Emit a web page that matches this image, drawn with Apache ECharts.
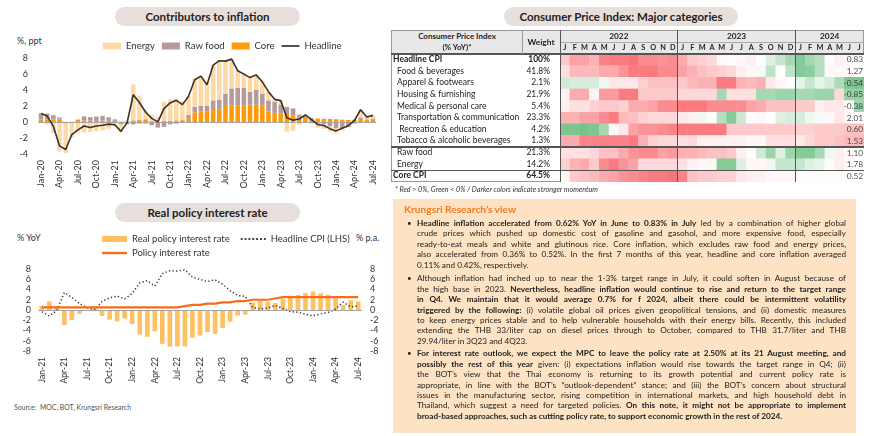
<!DOCTYPE html>
<html><head><meta charset="utf-8">
<script src="https://cdn.jsdelivr.net/npm/echarts@6/dist/echarts.min.js"></script>
<style>
body{margin:0;width:870px;height:436px;background:#fff;position:relative;overflow:hidden;font-family:Lato,"Noto Sans",sans-serif;color:#222;}
.abs{position:absolute;}
.pill{position:absolute;height:19px;line-height:19px;border-radius:10px;background:#e7dfdb;text-align:center;font-weight:bold;font-size:11.5px;color:#222;}
.small{font-size:9px;color:#333;}
#box{position:absolute;left:393px;top:199px;width:463px;height:234px;background:#fde3c3;}
.ln{position:absolute;left:24px;width:429px;font-size:8.2px;line-height:10.4px;height:10.4px;text-align:justify;text-align-last:justify;white-space:normal;color:#222;}
.ln.last{text-align-last:left;}
.bul{position:absolute;left:14px;font-size:8px;line-height:10.4px;}
.tt{position:absolute;font-size:8.5px;line-height:11.7px;height:11.7px;white-space:nowrap;color:#222;}
.hl{position:absolute;background:#555;}
</style></head><body>

<div class="pill" style="left:115px;top:7px;width:185px;">Contributors to inflation</div>
<div class="pill" style="left:115px;top:203px;width:185px;">Real policy interest rate</div>
<div class="pill" style="left:504px;top:7px;width:234px;">Consumer Price Index: Major categories</div>

<div class="abs small" style="left:17px;top:35px;">%, ppt</div>
<div class="abs small" style="left:17px;top:232px;">% YoY</div>
<div class="abs small" style="left:356px;top:232px;">% p.a.</div>
<div class="abs" style="left:14px;top:403px;font-size:6.9px;color:#555;">Source:&nbsp; MOC, BOT, Krungsri Research</div>

<div id="c1" class="abs" style="left:0;top:30px;width:380px;height:165px;"></div>
<div id="c2" class="abs" style="left:0;top:228px;width:382px;height:160px;"></div>

<!-- table -->
<div id="tbl" class="abs" style="left:391px;top:30px;width:473px;height:152px;border:1px solid #999;box-sizing:border-box;"></div>
<div class="abs" style="left:392px;top:31px;width:471px;height:23px;background:#e8e8e8;"></div>
<div id="heat" class="abs" style="left:560px;top:54px;width:304px;height:128px;"></div>
<div id="tlayer"></div>

<div class="abs" style="left:395px;top:185px;font-size:7.15px;font-style:italic;color:#333;">* Red &gt; 0%, Green &lt; 0% / Darker colors indicate stronger momentum</div>

<div id="box">
<div class="abs" style="left:11px;top:4px;font-size:10.2px;font-weight:bold;color:#f47a20;">Krungsri Research’s view</div>
<div id="paras"></div>
</div>

<script>
// ---------- Chart 1 data ----------
const cats1 = ['Jan-20','Feb-20','Mar-20','Apr-20','May-20','Jun-20','Jul-20','Aug-20','Sep-20','Oct-20','Nov-20','Dec-20',
'Jan-21','Feb-21','Mar-21','Apr-21','May-21','Jun-21','Jul-21','Aug-21','Sep-21','Oct-21','Nov-21','Dec-21',
'Jan-22','Feb-22','Mar-22','Apr-22','May-22','Jun-22','Jul-22','Aug-22','Sep-22','Oct-22','Nov-22','Dec-22',
'Jan-23','Feb-23','Mar-23','Apr-23','May-23','Jun-23','Jul-23','Aug-23','Sep-23','Oct-23','Nov-23','Dec-23',
'Jan-24','Feb-24','Mar-24','Apr-24','May-24','Jun-24','Jul-24'];
const coreContrib = [0.30,0.35,0.30,0.30,0.02,0.03,0.25,0.20,0.16,0.13,0.17,0.14,
0.14,0.05,0.06,0.20,0.30,0.35,0.10,0.05,0.13,0.14,0.20,0.20,
0.40,1.20,1.30,1.35,1.50,1.65,2.00,2.10,2.10,2.10,2.15,2.15,
2.05,1.30,1.15,1.10,1.00,0.87,0.57,0.52,0.42,0.44,0.39,0.39,
0.35,0.29,0.25,0.25,0.26,0.24,0.35];
const rawFoodContrib = [0.80,0.70,0.55,0.25,-0.20,-0.15,0.05,0.50,0.45,0.55,0.60,0.45,
0.20,-0.30,-0.30,-0.30,-0.20,-0.20,-0.40,-0.70,-0.60,-0.30,-0.20,0.10,
0.50,0.70,0.70,0.70,1.20,1.15,1.50,2.10,2.20,2.20,1.65,1.85,
1.50,1.40,1.35,1.10,0.90,0.83,0.35,0.20,0.10,-0.20,-0.30,-0.55,
-0.75,-0.75,-0.60,-0.20,0.30,0.10,0.10];
const energyContrib = [0.05,-0.30,-1.40,-3.70,-3.70,-1.80,-1.30,-1.30,-1.25,-1.15,-1.05,-0.85,
-0.55,-1.00,0.10,4.50,3.00,1.15,0.80,0.60,2.40,2.70,2.70,2.30,
2.30,3.50,3.80,2.90,4.40,4.90,4.20,3.70,2.10,1.80,1.70,1.80,
1.60,1.10,0.30,0.50,-1.20,-1.10,-0.40,0.20,-0.20,-0.50,-0.55,-0.65,
-0.65,-0.30,-0.10,0.10,1.00,0.30,0.40];
const headline1 = [1.05,0.74,-0.54,-2.99,-3.44,-1.57,-0.98,-0.50,-0.70,-0.50,-0.41,-0.27,
-0.34,-1.17,-0.08,3.41,2.44,1.25,0.45,0.02,1.68,2.38,2.71,2.17,
3.23,5.28,5.73,4.65,7.10,7.66,7.61,7.86,6.41,5.98,5.55,5.89,
5.02,3.79,2.83,2.67,0.53,0.23,0.38,0.88,0.30,-0.31,-0.44,-0.83,
-1.11,-0.77,-0.47,0.19,1.54,0.62,0.83];
const yTicks1 = {min:-4,max:8,interval:2};

// ---------- Chart 2 data ----------
const cats2 = cats1.slice(12);
const realRate = [0.84,1.67,0.58,-2.91,-1.94,-0.75,0.05,0.48,-1.18,-1.88,-2.21,-1.67,
-2.73,-4.78,-5.23,-4.15,-6.60,-7.16,-7.11,-7.11,-5.41,-4.98,-4.30,-4.64,
-3.52,-2.29,-1.08,-0.92,1.47,1.77,1.62,1.37,2.20,2.81,2.94,3.33,
3.61,3.27,2.97,2.31,0.96,1.88,1.67];
const headline2 = [-0.34,-1.17,-0.08,3.41,2.44,1.25,0.45,0.02,1.68,2.38,2.71,2.17,
3.23,5.28,5.73,4.65,7.10,7.66,7.61,7.86,6.41,5.98,5.55,5.89,
5.02,3.79,2.83,2.67,0.53,0.23,0.38,0.88,0.30,-0.31,-0.44,-0.83,
-1.11,-0.77,-0.47,0.19,1.54,0.62,0.83];
const policyRate = [0.5,0.5,0.5,0.5,0.5,0.5,0.5,0.5,0.5,0.5,0.5,0.5,
0.5,0.5,0.5,0.5,0.5,0.5,0.5,0.75,1.0,1.0,1.25,1.25,
1.5,1.5,1.75,1.75,2.0,2.0,2.0,2.25,2.5,2.5,2.5,2.5,
2.5,2.5,2.5,2.5,2.5,2.5,2.5];

// ---------- Heatmap data ----------
const rowNames = ['Headline CPI','Food & beverages','Apparel & footwears','Housing & furnishing','Medical & personal care','Transportation & communication',' Recreation & education','Tobacco & alcoholic beverages','Raw food','Energy','Core CPI'];
const weights = ['100%','41.8%','2.1%','21.9%','5.4%','23.3%','4.2%','1.3%','21.3%','14.2%','64.5%'];
const latestYoY = ['0.83','1.27','-0.54','-0.85','-0.38','2.01','0.60','1.53','1.10','1.78','0.52'];
const heatYears = ['2022','2023','2024'];
const heatMonths = ['J','F','M','A','M','J','J','A','S','O','N','D','J','F','M','A','M','J','J','A','S','O','N','D','J','F','M','A','M','J','J'];
const heatLevels = [
[0.35,0.6,0.6,0.5,0.8,0.85,0.85,0.9,0.75,0.75,0.7,0.75, 0.55,0.35,0.3,0.25,0.05,0.02,0.05,0.1,0.02,-0.2,-0.35,-0.55, -0.75,-0.55,-0.45,0.02,0.1,0.05,0],
[0.2,0.45,0.45,0.45,0.55,0.55,0.7,0.85,0.85,0.85,0.75,0.75, 0.6,0.5,0.4,0.35,0.3,0.25,0.1,0.05,-0.05,-0.4,0.0,-0.4, -0.75,-0.7,-0.45,0.05,0.05,0.05,0],
[-0.3,-0.25,-0.25,-0.25,-0.1,0.15,0.15,0.15,0.3,0.4,0.4,0.4, 0.35,0.45,0.5,0.5,0.85,0.85,0.5,0.45,0.5,0.15,0.05,0.0, -0.15,-0.35,-0.15,-0.25,-0.5,-0.8,-0.8],
[0.08,0.55,0.55,0.08,0.65,0.65,0.85,0.85,0.35,0.35,0.35,0.35, 0.25,0.25,0.25,0.25,-0.55,0.2,0.2,0.2,-0.55,-0.55,-0.6,-0.6, -0.55,-0.55,-0.6,-0.6,0.25,-0.65,-0.65],
[0.1,0.2,0.2,0.3,0.35,0.35,0.3,0.55,0.55,0.6,0.75,0.75, 0.85,0.85,0.85,0.75,0.75,0.75,0.75,0.6,0.55,0.4,0.4,0.4, 0.35,0.35,0.1,0.15,0.15,0.03,-0.6],
[0.5,0.5,0.6,0.6,0.75,0.85,0.45,0.4,0.3,0.25,0.25,0.25, 0.15,0.1,-0.1,0.02,-0.45,-0.75,-0.3,0.02,0.05,0.0,-0.2,-0.25, -0.25,-0.1,-0.05,0.05,0.15,0.05,0],
[-0.8,-0.8,-0.85,-0.8,-0.55,0.05,0.15,0.6,0.7,0.7,0.75,0.8, 0.85,0.85,0.85,0.85,0.85,0.35,0.35,0.35,0.35,0.35,0.35,0.35, 0.3,0.3,0.35,0.35,0.35,0.4,0.4],
[0.55,0.55,0.8,0.8,0.8,0.8,0.8,0.85,0.5,0.3,0.25,0.25, 0.2,0.25,0.1,0.1,0.1,0.1,0.1,0.05,0.05,0.2,0.2,0.2, 0.15,0.25,0.35,0.35,0.4,0.45,0.45],
[0.2,0.2,0.2,0.25,0.4,0.4,0.55,0.7,0.75,0.75,0.6,0.65, 0.5,0.5,0.45,0.4,0.4,0.35,0.1,-0.02,-0.3,-0.6,-0.2,-0.6, -0.75,-0.75,-0.55,-0.1,0.1,0.05,0],
[0.3,0.5,0.55,0.35,0.75,0.85,0.7,0.6,0.25,0.25,0.25,0.25, 0.2,0.1,0.05,0.05,-0.75,-0.75,-0.2,0.05,0.05,-0.1,-0.35,-0.35, -0.35,-0.2,-0.15,0.02,0.1,0.05,0],
[0.05,0.35,0.4,0.45,0.55,0.6,0.7,0.75,0.8,0.85,0.85,0.9, 0.8,0.4,0.35,0.35,0.3,0.3,0.15,0.1,0.1,0.05,0.05,0.05, 0.02,0.02,0.02,0.02,0.02,0.02,0]
];

// legend icons (pure shapes)
function lineIcon(w,h){return 'path://M0,0H'+w+'V'+h+'H0Z';}
function dotIcon(w,h,dot,gap){let s='path://';for(let x=0;x+dot<=w;x+=dot+gap){s+='M'+x+',0h'+dot+'v'+h+'h-'+dot+'z';}return s;}

// ---------- Chart 1 ----------
const axisText = {color:'#333',fontSize:9,fontFamily:'Lato'};
const c1 = echarts.init(document.getElementById('c1'),null,{renderer:'canvas'});
c1.setOption({
  animation:false,
  textStyle:{fontFamily:'Lato'},
  legend:{left:98,top:6,itemWidth:18,itemHeight:7,itemGap:7,textStyle:{color:'#333',fontSize:9.5},
    data:[{name:'Energy',icon:'rect'},{name:'Raw food',icon:'rect'},{name:'Core',icon:'rect'},{name:'Headline',icon:lineIcon(18,1.7)}]},
  grid:{left:38,right:4,top:28,height:96},
  xAxis:{type:'category',data:cats1,axisLine:{show:false},axisTick:{show:false},
    axisLabel:Object.assign({rotate:90,interval:2,margin:6},axisText)},
  yAxis:{type:'value',min:yTicks1.min,max:yTicks1.max,interval:yTicks1.interval,splitLine:{show:false},
    axisLine:{show:false},axisTick:{show:false},axisLabel:Object.assign({margin:10},axisText)},
  series:[
    {name:'Core',type:'bar',stack:'s',data:coreContrib,itemStyle:{color:'#ff9a0a'},barCategoryGap:'26%',
      markLine:{silent:true,symbol:'none',label:{show:false},lineStyle:{color:'#a6a6a6',type:'solid',width:1.2},data:[{yAxis:0}]}},
    {name:'Raw food',type:'bar',stack:'s',data:rawFoodContrib,itemStyle:{color:'#b49a9b'}},
    {name:'Energy',type:'bar',stack:'s',data:energyContrib,itemStyle:{color:'#fdd9a6'}},
    {name:'Headline',type:'line',data:headline1,symbol:'none',lineStyle:{color:'#3b302c',width:1.6},itemStyle:{color:'#3b302c'},z:5}
  ]
});

// ---------- Chart 2 ----------
const c2 = echarts.init(document.getElementById('c2'));
c2.setOption({
  animation:false,
  textStyle:{fontFamily:'Lato'},
  legend:[
    {left:97,top:1,itemWidth:25,itemHeight:6,itemGap:11,textStyle:{color:'#333',fontSize:9.5},
      data:[{name:'Real policy interest rate',icon:'rect'},{name:'Headline CPI (LHS)',icon:dotIcon(25,1.6,1.6,1.8)}]},
    {left:97,top:15,itemWidth:25,itemHeight:6,textStyle:{color:'#333',fontSize:9.5},data:[{name:'Policy interest rate',icon:lineIcon(25,2.4)}]}
  ],
  grid:{left:38,right:20,top:41,height:82},
  xAxis:{type:'category',data:cats2,axisLine:{show:false},axisTick:{show:false},
    axisLabel:Object.assign({rotate:90,interval:2,margin:6},axisText,{fontSize:8.5})},
  yAxis:[
    {type:'value',min:-8,max:8,interval:2,splitLine:{show:false},axisLine:{show:false},axisTick:{show:false},axisLabel:Object.assign({margin:7},axisText)},
    {type:'value',min:-8,max:8,interval:2,position:'right',splitLine:{show:false},axisLine:{show:false},axisTick:{show:false},axisLabel:Object.assign({margin:8},axisText)}
  ],
  series:[
    {name:'Real policy interest rate',type:'bar',yAxisIndex:1,data:realRate,itemStyle:{color:'#ffc061'},barCategoryGap:'38%',
      markLine:{silent:true,symbol:'none',label:{show:false},lineStyle:{color:'#a6a6a6',type:'solid',width:1.2},data:[{yAxis:0}]}},
    {name:'Headline CPI (LHS)',type:'line',yAxisIndex:0,data:headline2,symbol:'none',lineStyle:{color:'#3a3a3a',width:1.5,type:[1.3,2.3]},itemStyle:{color:'#3a3a3a'},z:4},
    {name:'Policy interest rate',type:'line',yAxisIndex:1,data:policyRate,symbol:'none',lineStyle:{color:'#f86b19',width:2.2},itemStyle:{color:'#f86b19'},z:5}
  ]
});

// ---------- Heatmap ----------
const heatData = [], labelData = [];
heatLevels.forEach((row,r)=>row.forEach((v,c)=>heatData.push([c,r,v])));
latestYoY.forEach((t,r)=>labelData.push({value:[heatMonths.length-1,r],txt:t}));
const hc = echarts.init(document.getElementById('heat'));
hc.setOption({
  animation:false,
  grid:{left:0,right:0,top:0,bottom:0},
  xAxis:{type:'category',data:heatMonths.map((m,i)=>i),show:false},
  yAxis:{type:'category',data:rowNames,inverse:true,show:false},
  visualMap:{show:false,type:'continuous',min:-1,max:1,dimension:2,seriesIndex:0,inRange:{color:['#5cb874','#ffffff','#f8646a']}},
  series:[
    {type:'heatmap',data:heatData,itemStyle:{borderWidth:0}},
    {type:'scatter',data:labelData,symbolSize:1,itemStyle:{color:'rgba(0,0,0,0)'},
      label:{show:true,position:'inside',align:'right',offset:[4,0],fontSize:8.3,color:'#222',fontFamily:'Lato',
      formatter:p=>p.data.txt}}
  ]
});

// ---------- Table text ----------
const tl = document.getElementById('tlayer');
function add(html, style){const d=document.createElement('div');d.className='tt';d.innerHTML=html;Object.assign(d.style,style);tl.appendChild(d);return d;}
const rowH = 128/11, top0 = 54, hx0 = 560, colW = 304/heatMonths.length;
add('Consumer Price Index',{left:'392px',width:'130px',top:'31px',textAlign:'center',fontWeight:'bold',fontSize:'8px',lineHeight:'10.5px'});
add('(% YoY)*',{left:'392px',width:'130px',top:'41.5px',textAlign:'center',fontWeight:'bold',fontSize:'8px',lineHeight:'10.5px'});
add('Weight',{left:'522px',width:'38px',top:'36px',textAlign:'center',fontWeight:'bold',fontSize:'8.4px',lineHeight:'12px'});
const yearSpans=[12,12,7]; let acc=0;
heatYears.forEach((y,i)=>{add(y,{left:(hx0+acc*colW)+'px',width:(yearSpans[i]*colW)+'px',top:'30.5px',textAlign:'center',fontWeight:'bold',fontSize:'8.3px',lineHeight:'11px'});acc+=yearSpans[i];});
heatMonths.forEach((m,i)=>add(m,{left:(hx0+i*colW)+'px',width:colW+'px',top:'42px',textAlign:'center',fontWeight:'bold',fontSize:'7.3px',lineHeight:'11px'}));
const indent=[0,4,4,4,4,4,4,4,4,4,0];
rowNames.forEach((n,i)=>{
  const b=(i===0||i===10);
  add(n.replace(/ /g,'&nbsp;'),{left:(393+indent[i])+'px',top:(top0+i*rowH)+'px',fontWeight:b?'bold':'normal'});
  add(weights[i],{left:'520px',width:'30px',textAlign:'right',top:(top0+i*rowH)+'px',fontWeight:b?'bold':'normal'});
});
function hline(x,y,w,h,c){const d=document.createElement('div');d.className='hl';Object.assign(d.style,{left:x+'px',top:y+'px',width:w+'px',height:h+'px',background:c||'#555'});tl.appendChild(d);}
hline(391,53,473,1.5);
hline(391,top0+8*rowH-0.7,473,1.5);
hline(391,top0+10*rowH-0.7,473,1.5);
hline(560,41.5,304,0.8,'#aaa');
hline(522,30,0.8,23.5,'#999');
hline(559.5,30,1.5,152);
hline(hx0+12*colW-0.7,30,1.5,152);
hline(hx0+24*colW-0.7,30,1.5,152);

// ---------- Text box ----------
const paras = [
 ['<b>Headline inflation accelerated from 0.62% YoY in June to 0.83% in July</b> led by a combination of higher global',
  'crude prices which pushed up domestic cost of gasoline and gasohol, and more expensive food, especially',
  'ready-to-eat meals and white and glutinous rice. Core inflation, which excludes raw food and energy prices,',
  'also accelerated from 0.36% to 0.52%. In the first 7 months of this year, headline and core inflation averaged',
  '0.11% and 0.42%, respectively.'],
 ['Although inflation had inched up to near the 1-3% target range in July, it could soften in August because of',
  'the high base in 2023. <b>Nevertheless, headline inflation would continue to rise and return to the target range</b>',
  '<b>in Q4. We maintain that it would average 0.7% for f 2024, albeit there could be intermittent volatility</b>',
  '<b>triggered by the following:</b> (i) volatile global oil prices given geopolitical tensions, and (ii) domestic measures',
  'to keep energy prices stable and to help vulnerable households with their energy bills. Recently, this included',
  'extending the THB 33/liter cap on diesel prices through to October, compared to THB 31.7/liter and THB',
  '29.94/liter in 3Q23 and 4Q23.'],
 ['<b>For interest rate outlook, we expect the MPC to leave the policy rate at 2.50% at its 21 August meeting, and</b>',
  '<b>possibly the rest of this year</b> given: (i) expectations inflation would rise towards the target range in Q4; (ii)',
  'the BOT’s view that the Thai economy is returning to its growth potential and current policy rate is',
  'appropriate, in line with the BOT’s “outlook-dependent” stance; and (iii) the BOT’s concern about structural',
  'issues in the manufacturing sector, rising competition in international markets, and high household debt in',
  'Thailand, which suggest a need for targeted policies. <b>On this note, it might not be appropriate to implement</b>',
  '<b>broad-based approaches, such as cutting policy rate, to support economic growth in the rest of 2024.</b>']
];
const pc = document.getElementById('paras');
const paraTop=[19,74.3,149.3];
paras.forEach((p,pi)=>{
  const b=document.createElement('div');b.className='bul';b.textContent='•';b.style.top=paraTop[pi]+'px';pc.appendChild(b);
  p.forEach((l,li)=>{const d=document.createElement('div');d.className='ln'+(li===p.length-1?' last':'');d.innerHTML=l;d.style.top=(paraTop[pi]+li*10.4)+'px';pc.appendChild(d);});
});
</script>
</body></html>
